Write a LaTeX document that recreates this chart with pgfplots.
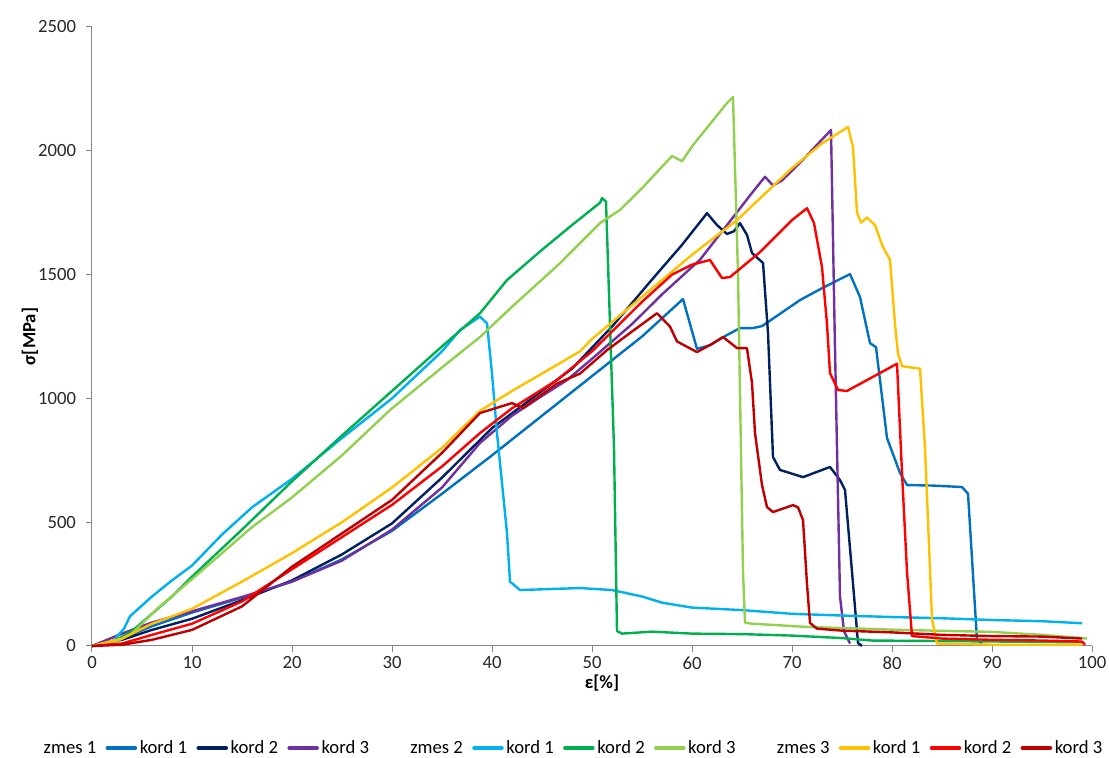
\documentclass[border=0pt]{standalone}
\usepackage{fontspec}
\setmainfont{Carlito}
\usepackage{pgfplots}
\pgfplotsset{compat=1.18}
\definecolor{axisgray}{HTML}{868686}
\definecolor{zAk}{HTML}{0070C0}
\definecolor{zAl}{HTML}{002060}
\definecolor{zAm}{HTML}{7030A0}
\definecolor{zBk}{HTML}{00B0F0}
\definecolor{zBl}{HTML}{00B050}
\definecolor{zBm}{HTML}{92D050}
\definecolor{zCk}{HTML}{FFC000}
\definecolor{zCl}{HTML}{FF0000}
\definecolor{zCm}{HTML}{C00000}
\begin{document}
\begin{tikzpicture}
\begin{axis}[
  scale only axis, width=750pt, height=464.25pt,
  xmin=0, xmax=100, ymin=0, ymax=2500,
  axis x line=bottom, axis y line=left,
  axis line style={draw=axisgray, line width=0.75pt, -},
  xtick={0,10,...,100}, ytick={0,500,...,2500},
  tick align=outside, major tick length=4.5pt,
  tick style={draw=axisgray, line width=0.75pt},
  minor tick num=0,
  /pgf/number format/assume math mode=true,
  /pgf/number format/set thousands separator={},
  every tick label/.append style={font=\fontsize{14}{16}\selectfont, text=black!85},
  yticklabel style={xshift=-4pt},
  xlabel={\textbf{ε[\%]}},
  ylabel={\textbf{σ[MPa]}},
  every axis x label/.append style={font=\fontsize{14}{16}\selectfont, at={(axis description cs:0.51,-0.06)}, anchor=center},
  every axis y label/.append style={font=\fontsize{14}{16}\selectfont, at={(axis description cs:-0.062,0.5)}, anchor=center},
  clip=false,
  every axis plot/.append style={line width=1.8pt, line join=round, mark=none},
  legend columns=12,
  legend cell align=left,
  legend image code/.code={\draw[#1,line width=2.6pt,line cap=round] (0pt,0pt) -- (21pt,0pt);},
  legend style={at={(axis description cs:0.481,-0.165)}, anchor=center, draw=none, fill=none,
    font=\fontsize{14}{17}\selectfont, inner sep=0pt,
    /tikz/every even column/.append style={column sep=5pt}},
]
\coordinate (bl) at (rel axis cs:0,0);
\coordinate (tr) at (rel axis cs:1,1);

\addlegendimage{empty legend}\addlegendentry{zmes 1}
\addplot[zAk] coordinates {(0,0)(3,30)(6,80)(10,135)(15,195)(20,260)(25,350)(30,465)(35,615)(40,770)(45,930)(50,1090)(55,1250)(59.1,1401)(60.5,1200)(61.8,1215)(63.5,1256)(64.8,1284)(66.1,1284)(67,1292)(70.8,1397)(73,1445)(75.8,1502)(76.8,1409)(77.8,1223)(78.4,1207)(79.5,840)(80.8,699)(81.5,650)(84,648)(87,642)(87.6,615)(88.5,25)(89,10)};
\addlegendentry{kord 1}
\addplot[zAl] coordinates {(0,0)(3,25)(6,65)(10,110)(15,185)(20,265)(25,370)(30,495)(35,680)(40,880)(45,1030)(48,1120)(52,1290)(56,1480)(59,1620)(61.5,1748)(62.5,1700)(63.5,1664)(64.2,1675)(64.8,1708)(65.5,1660)(66,1587)(67.1,1547)(67.6,1264)(68.1,763)(68.8,711)(71.1,682)(73.8,723)(74.8,670)(75.3,630)(76,300)(76.6,12)(77,0)};
\addlegendentry{kord 2}
\addplot[zAm] coordinates {(0,0)(3,50)(6,95)(10,140)(15,198)(20,260)(25,345)(30,470)(35,640)(38.8,820)(42,930)(45,1010)(47.5,1074)(50,1160)(54,1300)(57,1420)(60.8,1560)(63.5,1700)(66,1830)(67.3,1895)(68.1,1860)(69,1880)(71,1960)(73.9,2084)(74.3,1200)(74.8,200)(75.2,60)(75.8,10)};
\addlegendentry{kord 3}

\addlegendimage{empty legend}\addlegendentry{\hspace*{22pt}zmes 2}
\addplot[zBk] coordinates {(0,0)(2,15)(3.2,70)(3.8,120)(6,200)(8,265)(10,325)(13,450)(16,560)(20,675)(25,840)(30,1000)(35,1190)(36.8,1276)(38.8,1330)(39.5,1303)(40,1100)(40.5,860)(41.5,456)(41.8,260)(42.8,226)(48.8,234)(52,226)(55,200)(57,175)(60,155)(65,145)(70,130)(75,123)(80,117)(85,112)(90,105)(95,100)(99,92)};
\addlegendentry{kord 1}
\addplot[zBl] coordinates {(0,0)(2,15)(4,60)(6,130)(8,200)(10,280)(15,470)(20,665)(25,850)(30,1030)(35,1210)(38.8,1344)(41.5,1478)(45,1600)(48,1700)(50.8,1790)(51,1809)(51.4,1795)(52.2,800)(52.5,60)(53,50)(56,58)(60,50)(65,48)(70,42)(75,32)(78,22)(85,20)(99,15)};
\addlegendentry{kord 2}
\addplot[zBm] coordinates {(0,0)(2,10)(4,50)(6.5,150)(10,270)(13,375)(16,480)(20,600)(22.5,685)(25,770)(29.8,953)(35,1125)(38.8,1248)(42,1370)(46.8,1546)(50.8,1708)(52.8,1761)(55.1,1853)(58,1979)(59,1958)(60.1,2023)(63.5,2193)(64.1,2217)(64.6,1500)(65.1,300)(65.3,95)(66,90)(71.5,77)(80.8,65)(90,57)(95,45)(99.5,30)};
\addlegendentry{kord 3}

\addlegendimage{empty legend}\addlegendentry{\hspace*{22pt}zmes 3}
\addplot[zCk] coordinates {(0,0)(3,30)(6,90)(10,150)(15,260)(20,375)(25,500)(30,640)(35,800)(38.8,950)(42,1030)(45,1100)(48.8,1190)(50,1240)(55,1410)(60,1580)(64.5,1720)(70,1930)(73,2030)(75.6,2096)(76.1,2015)(76.5,1750)(76.9,1710)(77.5,1730)(78.3,1700)(79.1,1610)(79.8,1560)(80.3,1300)(80.6,1180)(81,1130)(82.8,1120)(83.3,800)(84,110)(84.5,10)(90,5)(99,5)};
\addlegendentry{kord 1}
\addplot[zCl] coordinates {(0,0)(3,10)(6,45)(10,90)(15,180)(20,310)(25,440)(30,570)(35,725)(38.8,860)(42,960)(46.5,1074)(50,1190)(55,1390)(58,1500)(60,1540)(61.8,1559)(63,1486)(63.8,1490)(66.8,1591)(70,1720)(71.5,1768)(72.2,1708)(73,1530)(73.5,1300)(73.8,1102)(74.6,1034)(75.5,1030)(80.5,1140)(81,700)(81.5,300)(82,40)(85,30)(90,25)(95,22)(99,18)(99.3,5)};
\addlegendentry{kord 2}
\addplot[zCm] coordinates {(0,0)(3,5)(6,25)(10,65)(15,160)(20,320)(25,455)(30,590)(35,780)(38.8,941)(42,981)(43.1,961)(46.5,1060)(48.8,1100)(51.5,1195)(54,1270)(56.5,1344)(57.8,1290)(58.5,1230)(60.5,1187)(62,1220)(63.1,1248)(64.5,1203)(65.5,1203)(66,1062)(66.3,860)(67,650)(67.5,561)(68.1,541)(70.1,569)(70.6,560)(71.1,509)(71.5,250)(71.8,93)(72.5,70)(75,62)(80,55)(85,45)(90,40)(95,38)(99,30)};
\addlegendentry{kord 3}
\end{axis}
\pgfresetboundingbox
\path[use as bounding box] ([shift={(-69pt,-84pt)}]bl) rectangle ([shift={(12.75pt,20.25pt)}]tr);
\end{tikzpicture}
\end{document}
